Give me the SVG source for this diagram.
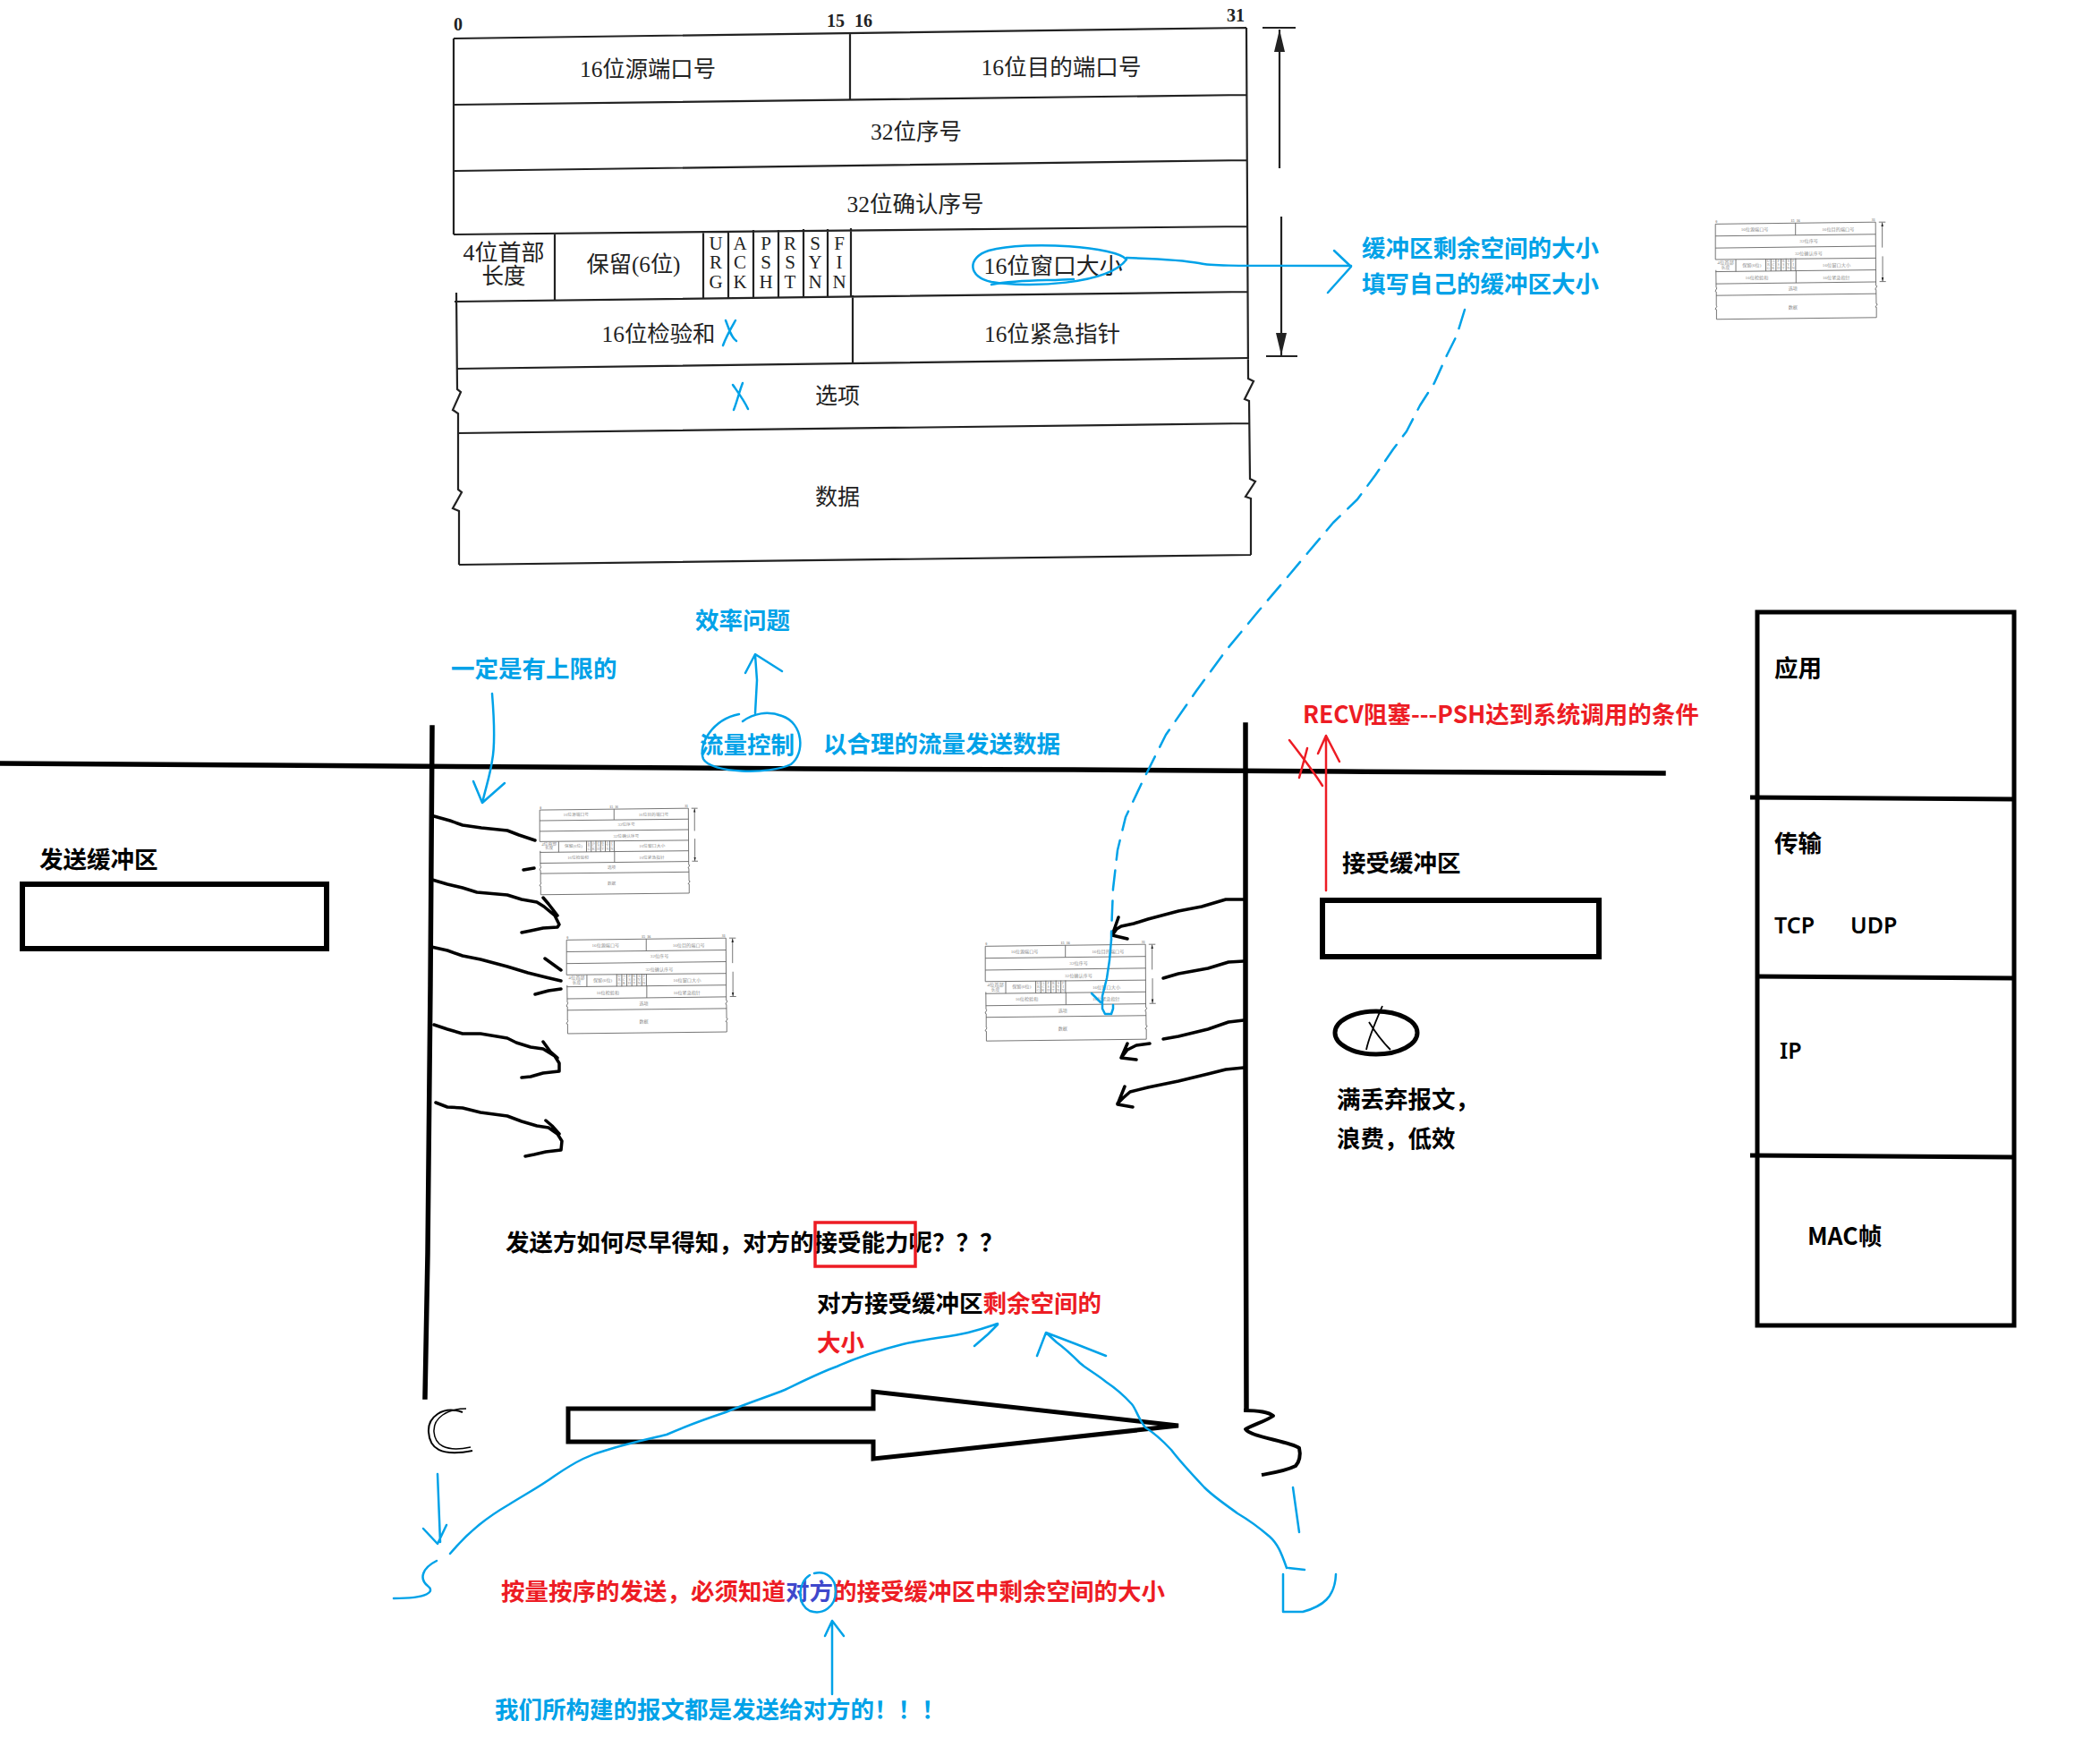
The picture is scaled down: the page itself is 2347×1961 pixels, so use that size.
<svg xmlns="http://www.w3.org/2000/svg" xmlns:xlink="http://www.w3.org/1999/xlink" width="2347" height="1961" viewBox="0 0 2347 1961">
<style>
.hdr{font-family:"Liberation Serif","Noto Sans CJK SC",serif;font-size:25px;text-anchor:middle}
.flag{font-family:"Liberation Serif",serif;font-size:21px;text-anchor:middle}
.num{font-family:"Liberation Serif",serif;font-size:20px;font-weight:bold;text-anchor:middle}
.b{font-family:"Noto Sans CJK SC","Noto Sans",sans-serif;font-weight:700;font-size:26.5px}
.lat{font-family:"Noto Sans","Noto Sans CJK SC",sans-serif;font-weight:600;font-size:25px;fill:#000}
.blue{fill:#00a2e8}.red{fill:#ed1c24}.blk{fill:#000}.dblue{fill:#3f48cc}
.bl{fill:none;stroke:#00a2e8;stroke-width:2.5;stroke-linecap:round;stroke-linejoin:round}
.rl{fill:none;stroke:#ed1c24;stroke-width:2.5;stroke-linecap:round;stroke-linejoin:round}
.k{fill:none;stroke:#000;stroke-width:3.5;stroke-linecap:round;stroke-linejoin:round}
.kt{fill:none;stroke:#000;stroke-width:5.5;stroke-linecap:square}
.thumb{stroke:#666;stroke-width:0.9;fill:#8a8a8a}
</style>
<defs>
<g id="hdrFrame" fill="none" stroke-linejoin="miter">
<path vector-effect="non-scaling-stroke" d="M507 43 L1393 31 M507 43 L507 262 M510 327 L511 435 L515 438 L506 458 L512 462 L512 547 L516 550 L506 568 L513 571 L513 631 M1393 31 L1395 423 L1401 426 L1391 446 L1396 448 L1397 535 L1403 538 L1392 555 L1398 557 L1398 620 M507 117 L1393 106 M507 191 L1394 179 M507 262 L1395 253 M508 337 L1395 326 M510 412 L1396 400 M511 484 L1397 473 M513 631 L1398 620 M950 37 L950 111 M620 262 L620 336 M786 258 L786 334 M814 258 L814 334 M842 257 L842 333 M870 257 L870 333 M898 256 L898 332 M925 256 L925 332 M951 255 L951 331 M953 330 L953 406 M1430 33 L1430 188 M1411 31 L1448 31 M1432 242 L1432 397 M1415 398 L1450 398"/>
<path d="M1424 58 L1430 33 L1436 58 Z M1426 372 L1432 397 L1438 372 Z" fill="#222" stroke="none"/>
</g>
<g id="hdrText" stroke="none">
<text class="num" x="512" y="34">0</text>
<text class="num" x="934" y="30">15</text>
<text class="num" x="965" y="30">16</text>
<text class="num" x="1381" y="24">31</text>
<text class="hdr" x="724" y="86" textLength="152" lengthAdjust="spacingAndGlyphs">16位源端口号</text>
<text class="hdr" x="1186" y="84" textLength="179" lengthAdjust="spacingAndGlyphs">16位目的端口号</text>
<text class="hdr" x="1024" y="156" textLength="102" lengthAdjust="spacingAndGlyphs">32位序号</text>
<text class="hdr" x="1023" y="237" textLength="153" lengthAdjust="spacingAndGlyphs">32位确认序号</text>
<text class="hdr" x="563" y="291" textLength="91" lengthAdjust="spacingAndGlyphs">4位首部</text>
<text class="hdr" x="563" y="317" textLength="49" lengthAdjust="spacingAndGlyphs">长度</text>
<text class="hdr" x="708" y="304" textLength="105" lengthAdjust="spacingAndGlyphs">保留(6位)</text>
<text class="flag" x="800" y="279">U</text><text class="flag" x="800" y="300">R</text><text class="flag" x="800" y="322">G</text>
<text class="flag" x="827" y="279">A</text><text class="flag" x="827" y="300">C</text><text class="flag" x="827" y="322">K</text>
<text class="flag" x="856" y="279">P</text><text class="flag" x="856" y="300">S</text><text class="flag" x="856" y="322">H</text>
<text class="flag" x="883" y="279">R</text><text class="flag" x="883" y="300">S</text><text class="flag" x="883" y="322">T</text>
<text class="flag" x="911" y="279">S</text><text class="flag" x="911" y="300">Y</text><text class="flag" x="911" y="322">N</text>
<text class="flag" x="938" y="279">F</text><text class="flag" x="938" y="300">I</text><text class="flag" x="938" y="322">N</text>
<text class="hdr" x="1177" y="306" textLength="155" lengthAdjust="spacingAndGlyphs">16位窗口大小</text>
<text class="hdr" x="736" y="382" textLength="127" lengthAdjust="spacingAndGlyphs">16位检验和</text>
<text class="hdr" x="1176" y="382" textLength="152" lengthAdjust="spacingAndGlyphs">16位紧急指针</text>
<text class="hdr" x="936" y="451" textLength="50" lengthAdjust="spacingAndGlyphs">选项</text>
<text class="hdr" x="936" y="564" textLength="50" lengthAdjust="spacingAndGlyphs">数据</text>
</g>
<g id="hdrAll">
<use xlink:href="#hdrFrame" href="#hdrFrame"/>
<use xlink:href="#hdrText" href="#hdrText"/>
</g>
</defs>

<g id="tcp-header">
<use xlink:href="#hdrAll" href="#hdrAll" stroke="#222" stroke-width="2.2" fill="#222"/>
</g>

<g id="thumbnails">
<use xlink:href="#hdrAll" href="#hdrAll" class="thumb" transform="translate(1917 248) scale(0.202 0.181) translate(-506 -30)"/>
<use xlink:href="#hdrAll" href="#hdrAll" class="thumb" transform="translate(603 903) scale(0.1875 0.161) translate(-506 -30)"/>
<use xlink:href="#hdrAll" href="#hdrAll" class="thumb" transform="translate(633 1048) scale(0.201 0.178) translate(-506 -30)"/>
<use xlink:href="#hdrAll" href="#hdrAll" class="thumb" transform="translate(1101 1055) scale(0.202 0.18) translate(-506 -30)"/>
</g>

<g id="header-notes">
<path class="bl" d="M1259 290 C1248 276 1150 268 1105 280 C1080 288 1082 310 1108 315 C1150 322 1238 318 1259 290"/>
<path class="bl" d="M1108 318 C1140 312 1170 314 1200 312"/>
<path class="bl" d="M1259 288 C1290 289 1320 290 1340 294 C1352 297 1360 297 1510 297"/>
<path class="bl" d="M1491 280 L1510 298 L1484 327"/>
<text class="b blue" x="1522" y="287">缓冲区剩余空间的大小</text>
<text class="b blue" x="1522" y="327">填写自己的缓冲区大小</text>
<path class="bl" d="M808 386 C812 375 818 365 822 358 M811 358 C815 368 817 377 823 381"/>
<path class="bl" d="M820 458 C824 448 826 438 830 428 M819 430 C826 440 832 448 836 457"/>
</g>

<g id="structure">
<path class="kt" d="M0 853 L300 855 L600 857 L900 859 L1200 860 L1500 862 L1859 864"/>
<path class="kt" d="M483 813 L481 1100 L478 1400 L475 1561"/>
<path class="kt" d="M1392 810 L1392 1200 L1393 1572"/>
</g>

<g id="send-buffer">
<text class="b blk" x="44" y="970">发送缓冲区</text>
<rect x="25" y="988" width="340" height="72" fill="none" stroke="#000" stroke-width="6"/>
</g>

<g id="recv-buffer">
<text class="b blk" x="1500" y="974">接受缓冲区</text>
<rect x="1478" y="1006" width="309" height="63" fill="none" stroke="#000" stroke-width="6"/>
</g>

<g id="drop">
<ellipse cx="1538" cy="1154" rx="46" ry="24" fill="none" stroke="#000" stroke-width="5"/>
<path d="M1545 1124 C1538 1140 1530 1158 1527 1173 M1530 1142 C1538 1155 1546 1165 1554 1173" fill="none" stroke="#000" stroke-width="1.8"/>
<text class="b blk" x="1494" y="1238">满丢弃报文，</text>
<text class="b blk" x="1494" y="1282">浪费，低效</text>
</g>

<g id="stack">
<rect x="1964" y="684" width="287" height="797" fill="none" stroke="#000" stroke-width="5"/>
<path d="M1956 891 L2253 893 M1962 1091 L2253 1093 M1956 1291 L2250 1293" fill="none" stroke="#000" stroke-width="5"/>
<text class="b blk" x="1983" y="756">应用</text>
<text class="b blk" x="1983" y="952">传输</text>
<text class="lat" x="1983" y="1043">TCP</text>
<text class="lat" x="2068" y="1043">UDP</text>
<text class="lat" x="1989" y="1183">IP</text>
<text class="b blk" x="2020" y="1391">MAC帧</text>
</g>

<g id="recv-note">
<text class="b red" x="1456" y="808">RECV阻塞---PSH达到系统调用的条件</text>
<path class="rl" d="M1482 995 L1482 822 M1473 842 L1482 822 L1497 851"/>
<path class="rl" d="M1441 827 C1455 845 1468 862 1478 878 M1461 836 C1458 848 1455 858 1452 869"/>
</g>

<g id="flow-notes">
<text class="b blue" x="777" y="703">效率问题</text>
<text class="b blue" x="504" y="757">一定是有上限的</text>
<path class="bl" d="M550 775 C552 800 554 830 550 850 C548 865 543 880 539 897 M529 873 L539 897 L564 875"/>
<path class="bl" d="M844 797 L846 760 L844 732 M833 752 L844 731 L874 750"/>
<path class="bl" d="M826 798 C796 804 780 832 786 848 C794 864 860 866 884 854 C900 842 898 808 874 800 C858 794 842 797 830 806"/>
<text class="b blue" x="782" y="842">流量控制</text>
<text class="b blue" x="920" y="841">以合理的流量发送数据</text>
</g>

<g id="connectors">
<path class="k" d="M485 912 L503 917 L517 922 L538 925 L567 928 L580 933 L598 939 M585 972 L597 970"/>
<path class="k" d="M483 983 L500 988 L517 992 L533 997 L567 1000 L583 1005 L600 1008 L608 1013 L620 1023 L625 1033 L623 1036 L607 1037 L593 1040 L583 1042 M607 1003 L613 1010 L623 1023"/>
<path class="k" d="M482 1058 L500 1062 L517 1068 L537 1072 L567 1080 L590 1087 L610 1092 L627 1096 M609 1071 L627 1084 M598 1111 L613 1107 L627 1105"/>
<path class="k" d="M485 1145 L500 1150 L517 1155 L537 1155 L567 1160 L577 1165 L593 1170 L607 1172 L620 1180 L625 1188 L625 1197 L607 1199 L593 1203 L583 1204 M607 1164 L615 1175 L623 1182"/>
<path class="k" d="M487 1232 L500 1237 L517 1238 L537 1243 L567 1247 L583 1253 L600 1258 L613 1260 L623 1267 L628 1275 L627 1285 L610 1287 L597 1290 L587 1292 M610 1252 L617 1258 L625 1267"/>
<path class="k" d="M1390 1005 L1370 1005 L1343 1013 L1317 1018 L1283 1027 L1267 1032 L1253 1035 L1248 1038 L1243 1045 M1250 1025 L1243 1045 L1260 1049"/>
<path class="k" d="M1390 1074 L1373 1075 L1350 1082 L1317 1088 L1300 1093"/>
<path class="k" d="M1390 1140 L1373 1142 L1350 1150 L1317 1158 L1300 1161"/>
<path class="k" d="M1285 1166 L1270 1168 L1260 1173 L1253 1182 M1260 1166 L1253 1182 L1270 1184"/>
<path class="k" d="M1390 1193 L1370 1195 L1350 1200 L1317 1208 L1283 1215 L1263 1220 L1255 1227 L1249 1233 M1257 1214 L1249 1234 L1266 1237"/>
<path class="bl" stroke-dasharray="22 12" d="M1637 346 L1628 375 L1617 397 L1603 428 L1587 453 L1572 482 L1557 502 L1537 531 L1517 558 L1490 584 L1463 616 L1437 647 L1403 687 L1370 727 L1337 772 L1303 821 L1277 873 L1258 913 L1249 950 L1244 993 L1242 1043 L1242 1050"/>
<path class="bl" d="M1242 1050 L1240 1073 L1237 1093 L1232 1113 L1232 1127 L1235 1133 L1242 1133 L1244 1127 L1244 1123 M1220 1110 L1230 1120"/>
</g>

<g id="question">
<text class="b blk" x="565" y="1398">发送方如何尽早得知，对方的接受能力呢？？？</text>
<rect x="911" y="1366" width="112" height="49" fill="none" stroke="#ed1c24" stroke-width="3.5"/>
<text class="b" x="913" y="1466"><tspan class="blk">对方接受缓冲区</tspan><tspan class="red">剩余空间的</tspan></text>
<text class="b red" x="913" y="1510">大小</text>
</g>

<g id="transfer">
<path d="M635 1574 L976 1574 L976 1555 L1317 1593 L976 1630 L976 1611 L635 1611 Z" fill="none" stroke="#000" stroke-width="5" stroke-linejoin="miter"/>
<path d="M517 1578 C494 1570 478 1584 479 1600 C480 1618 492 1628 528 1621" fill="none" stroke="#000" stroke-width="2"/>
<path d="M521 1574 C500 1574 484 1584 485 1600 C486 1614 497 1623 526 1617" fill="none" stroke="#000" stroke-width="1.5"/>
<path d="M1390 1576 C1405 1576 1418 1578 1423 1582 C1415 1588 1400 1592 1392 1597 C1398 1606 1440 1610 1452 1618 C1454 1626 1452 1634 1448 1638 C1436 1644 1420 1646 1410 1648" fill="none" stroke="#000" stroke-width="4" stroke-linejoin="round"/>
</g>

<g id="arcs">
<path class="bl" d="M489 1647 L492 1723 M473 1708 L489 1725 L499 1704"/>
<path class="bl" d="M488 1744 C472 1752 468 1764 478 1772 C486 1778 480 1786 440 1786"/>
<path class="bl" d="M503 1736 C525 1710 545 1695 569 1681 C590 1668 605 1660 620 1649 C645 1632 660 1625 679 1620 C705 1612 725 1608 745 1603 C770 1592 790 1585 811 1578 C840 1566 860 1560 877 1553 C900 1542 918 1533 935 1527 C962 1515 985 1508 1009 1502 C1035 1496 1060 1494 1082 1489 C1098 1485 1106 1482 1115 1479 M1089 1504 L1104 1491 L1115 1480"/>
<path class="bl" d="M1438 1752 C1432 1735 1428 1725 1419 1717 C1405 1705 1395 1698 1383 1691 C1368 1680 1356 1672 1346 1662 C1330 1645 1318 1632 1309 1620 C1295 1605 1288 1600 1280 1595 C1272 1585 1270 1575 1265 1569 C1255 1558 1245 1550 1236 1544 C1225 1535 1215 1530 1207 1523 C1196 1512 1188 1505 1181 1500 L1169 1489 M1159 1515 L1169 1489 L1203 1502 L1236 1515"/>
<path class="bl" d="M1445 1662 L1452 1712"/>
<path class="bl" d="M1440 1752 L1458 1754 M1434 1759 L1434 1801 L1456 1801 C1478 1795 1492 1785 1493 1759"/>
</g>

<g id="conclusion">
<text class="b" x="560" y="1788"><tspan class="red">按量按序的发送，必须知道</tspan><tspan class="dblue">对方</tspan><tspan class="red">的接受缓冲区中剩余空间的大小</tspan></text>
<path class="bl" d="M905 1760 C892 1768 890 1792 905 1800 C920 1805 934 1795 934 1778 C934 1762 922 1755 910 1758"/>
<path class="bl" d="M930 1893 L930 1811 M922 1828 L930 1811 L943 1828"/>
<text class="b blue" x="553" y="1920">我们所构建的报文都是发送给对方的！！！</text>
</g>
</svg>
